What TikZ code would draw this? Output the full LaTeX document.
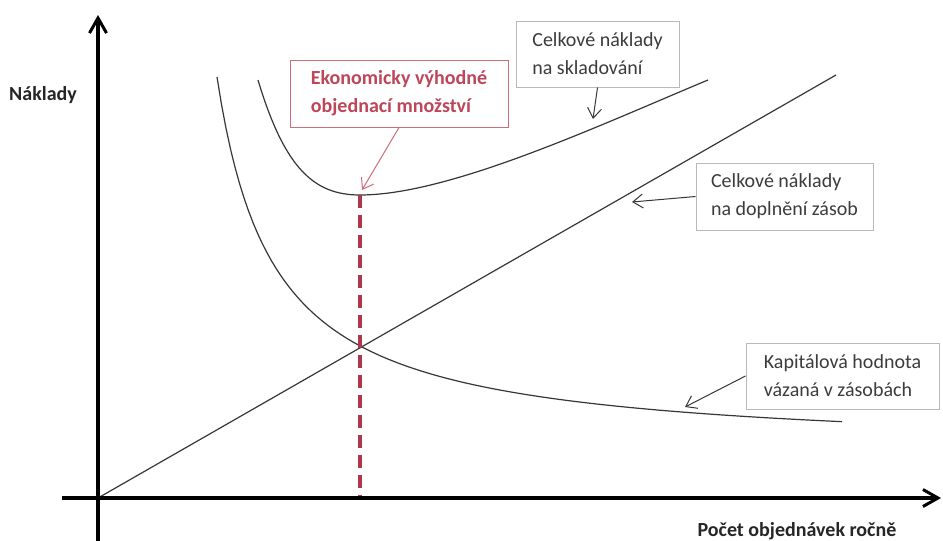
\documentclass[tikz,border=0pt]{standalone}
\usepackage{fontspec}
\setmainfont{Carlito}
\usetikzlibrary{arrows.meta}
\definecolor{curvecol}{RGB}{55,55,55}
\definecolor{boxline}{RGB}{185,185,185}
\definecolor{boxtext}{RGB}{60,60,60}
\definecolor{eoqred}{RGB}{175,55,75}
\definecolor{eoqtext}{RGB}{190,70,90}
\definecolor{eoqbox}{RGB}{205,110,120}
\tikzset{
  axis/.style={line width=3.4pt, black, -{Straight Barb[length=15pt,width=17pt,line width=3pt]}},
  curve/.style={line width=1.2pt, curvecol},
  eoqline/.style={line width=3.6pt, eoqred, dash pattern=on 13pt off 7pt},
  txt/.style={font=\fontsize{20}{28}\selectfont},
  box/.style={txt, draw=boxline, line width=1pt, fill=white, text=boxtext, align=left, inner sep=0pt},
  redbox/.style={txt, font=\fontsize{20}{28}\selectfont\bfseries, draw=eoqbox, line width=1pt, fill=white, text=eoqtext, align=left, inner sep=0pt},
  callout/.style={line width=1pt, curvecol, -{Straight Barb[length=10pt,width=14pt,line width=1pt]}},
  redcallout/.style={line width=1pt, eoqbox, -{Straight Barb[length=10pt,width=14pt,line width=1pt]}},
  axislabel/.style={font=\fontsize{20}{24}\selectfont\bfseries, text=black!85, inner sep=0pt}
}
\begin{document}
\begin{tikzpicture}[x=1pt,y=-1pt]
\useasboundingbox (0,0) rectangle (943,541);
\fill[white] (0,0) rectangle (943,541);
% coordinates
\coordinate (O) at (98,498);
\coordinate (ybot) at (98,541);
\coordinate (ytop) at (98,15);
\coordinate (xleft) at (62,498);
\coordinate (xright) at (941,498);
\coordinate (Lend) at (836,75);
\coordinate (T0) at (258,80);
\coordinate (Tmin) at (360,195);
\coordinate (T1) at (708,80);
\coordinate (Xq) at (360,498);
% curves
\draw[curve] (O) -- (Lend);
\draw[curve] plot[domain=217:842,samples=140] (\x,{453.1-214.4/((\x-160)/100)});
\draw[curve] (T0) .. controls (285,170) and (315,195) .. (Tmin)
             .. controls (450,195) and (600,125) .. (T1);
\draw[eoqline] (Tmin) -- (Xq);
% axes
\draw[axis] (ybot) -- (ytop);
\draw[axis] (xleft) -- (xright);
% labels
\node[axislabel, anchor=west] (ylab) at (9,95) {Náklady};
\node[axislabel] (xlab) at (797,531) {Počet objednávek ročně};
% boxes
\node[box, minimum width=163pt, minimum height=66pt] (bstore) at (597.5,54) {Celkové náklady\\na skladování};
\node[box, minimum width=177pt, minimum height=67pt] (brepl) at (784.5,196.5) {Celkové náklady\\na doplnění zásob};
\node[box, minimum width=193pt, minimum height=66pt] (bcap) at (842.5,376) {Kapitálová hodnota\\vázaná v zásobách};
\node[redbox, minimum width=218pt, minimum height=67pt] (beoq) at (399,93.5) {Ekonomicky výhodné\\objednací množství};
% callout targets
\coordinate (aStore) at (593,119);
\coordinate (aRepl) at (632,202);
\coordinate (aCap) at (685,407);
\coordinate (aEoq) at (362,190);
\draw[callout] (bstore.south) -- (aStore);
\draw[callout] (brepl.west) -- (aRepl);
\draw[callout] (bcap.west) -- (aCap);
\draw[redcallout] (beoq.south) -- (aEoq);
\end{tikzpicture}
\end{document}
